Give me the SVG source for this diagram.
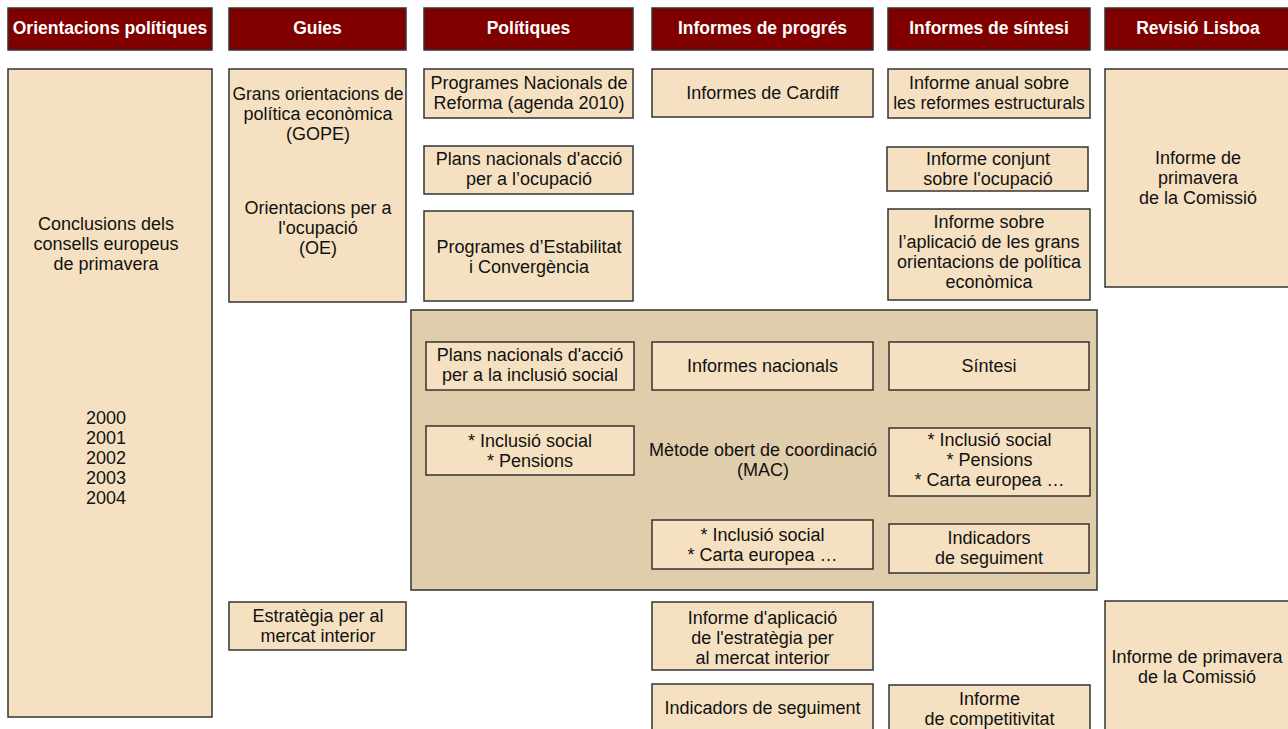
<svg xmlns="http://www.w3.org/2000/svg" width="1288" height="729" viewBox="0 0 1288 729">
<style>
.h rect{fill:#800000;stroke:#333;stroke-width:1.5}
.h text{fill:#fff;font-family:"Liberation Sans",Arial,sans-serif;font-size:17.5px;font-weight:bold;text-anchor:middle}
.n rect{fill:#f5e1c1;stroke:#333;stroke-width:1.5}
text{font-family:"Liberation Sans",Arial,sans-serif;font-size:18px;fill:#111;text-anchor:middle}
.mac{fill:#e0cdab;stroke:#333;stroke-width:1.5}
</style>
<rect width="1288" height="729" fill="#fff"/>
<g id="headers">
<g id="h1" class="h"><rect x="8" y="8" width="204" height="42"/><text x="110" y="34">Orientacions polítiques</text></g>
<g id="h2" class="h"><rect x="229" y="8" width="177" height="42"/><text x="317.5" y="34">Guies</text></g>
<g id="h3" class="h"><rect x="424" y="8" width="209" height="42"/><text x="528.5" y="34">Polítiques</text></g>
<g id="h4" class="h"><rect x="652" y="8" width="221" height="42"/><text x="762.5" y="34">Informes de progrés</text></g>
<g id="h5" class="h"><rect x="888" y="8" width="202" height="42"/><text x="989" y="34">Informes de síntesi</text></g>
<g id="h6" class="h"><rect x="1105" y="8" width="190" height="42"/><text x="1198" y="34">Revisió Lisboa</text></g>
</g>
<g id="mac-group">
<rect class="mac" x="411" y="310" width="686" height="280"/>
<text x="763" y="456">Mètode obert de coordinació</text>
<text x="763" y="476">(MAC)</text>
</g>
<g id="conclusions" class="n"><rect x="8" y="69" width="204" height="648"/>
<text x="106" y="230">Conclusions dels</text><text x="106" y="250">consells europeus</text><text x="106" y="270">de primavera</text>
<text x="106" y="424">2000</text><text x="106" y="444">2001</text><text x="106" y="464">2002</text><text x="106" y="484">2003</text><text x="106" y="504">2004</text></g>
<g id="gope" class="n"><rect x="229" y="69" width="177" height="233"/>
<text x="318" y="100" style="font-size:17.5px">Grans orientacions de</text><text x="318" y="120">política econòmica</text><text x="318" y="140">(GOPE)</text>
<text x="318" y="214">Orientacions per a</text><text x="318" y="234">l'ocupació</text><text x="318" y="254">(OE)</text></g>
<g id="pnr" class="n"><rect x="424" y="69" width="209" height="49"/><text x="529" y="89">Programes Nacionals de</text><text x="529" y="109">Reforma (agenda 2010)</text></g>
<g id="pnao" class="n"><rect x="424" y="146" width="209" height="48"/><text x="529" y="165">Plans nacionals d'acció</text><text x="529" y="185">per a l’ocupació</text></g>
<g id="pec" class="n"><rect x="424" y="211" width="209" height="90"/><text x="529" y="253">Programes d’Estabilitat</text><text x="529" y="273">i Convergència</text></g>
<g id="cardiff" class="n"><rect x="652" y="69" width="221" height="48"/><text x="762.5" y="99">Informes de Cardiff</text></g>
<g id="anual" class="n"><rect x="888" y="69" width="202" height="49"/><text x="989" y="89">Informe anual sobre</text><text x="989" y="109" style="font-size:17.5px">les reformes estructurals</text></g>
<g id="conjunt" class="n"><rect x="887" y="147" width="201" height="44"/><text x="988" y="165">Informe conjunt</text><text x="988" y="185">sobre l'ocupació</text></g>
<g id="aplic" class="n"><rect x="888" y="209" width="202" height="91"/><text x="989" y="228">Informe sobre</text><text x="989" y="248">l’aplicació de les grans</text><text x="989" y="268">orientacions de política</text><text x="989" y="288">econòmica</text></g>
<g id="prim1" class="n"><rect x="1105" y="69" width="190" height="218"/><text x="1198" y="164">Informe de</text><text x="1198" y="184">primavera</text><text x="1198" y="204">de la Comissió</text></g>
<g id="pnai" class="n"><rect x="426" y="342" width="208" height="48"/><text x="530" y="361">Plans nacionals d'acció</text><text x="530" y="381">per a la inclusió social</text></g>
<g id="inac" class="n"><rect x="652" y="342" width="221" height="48"/><text x="762.5" y="372">Informes nacionals</text></g>
<g id="sintesi" class="n"><rect x="889" y="342" width="200" height="48"/><text x="989" y="372">Síntesi</text></g>
<g id="isp" class="n"><rect x="426" y="426" width="208" height="49"/><text x="530" y="447">* Inclusió social</text><text x="530" y="467">* Pensions</text></g>
<g id="isc" class="n"><rect x="652" y="520" width="221" height="49"/><text x="762.5" y="541">* Inclusió social</text><text x="762.5" y="561">* Carta europea …</text></g>
<g id="ispc" class="n"><rect x="889" y="428" width="201" height="68"/><text x="989.5" y="446">* Inclusió social</text><text x="989.5" y="466">* Pensions</text><text x="989.5" y="486">* Carta europea …</text></g>
<g id="ind1" class="n"><rect x="889" y="524" width="200" height="49"/><text x="989" y="544">Indicadors</text><text x="989" y="564">de seguiment</text></g>
<g id="emi" class="n"><rect x="229" y="602" width="177" height="48"/><text x="318" y="622">Estratègia per al</text><text x="318" y="642">mercat interior</text></g>
<g id="iaemi" class="n"><rect x="652" y="602" width="221" height="68"/><text x="762.5" y="624">Informe d'aplicació</text><text x="762.5" y="644">de l'estratègia per</text><text x="762.5" y="664">al mercat interior</text></g>
<g id="ind2" class="n"><rect x="652" y="684" width="221" height="60"/><text x="762.5" y="714">Indicadors de seguiment</text></g>
<g id="comp" class="n"><rect x="889" y="685" width="201" height="60"/><text x="989.5" y="705">Informe</text><text x="989.5" y="725">de competitivitat</text></g>
<g id="prim2" class="n"><rect x="1105" y="601" width="190" height="140"/><text x="1197" y="663">Informe de primavera</text><text x="1197" y="683">de la Comissió</text></g>
<g id="connectors"/>
</svg>
